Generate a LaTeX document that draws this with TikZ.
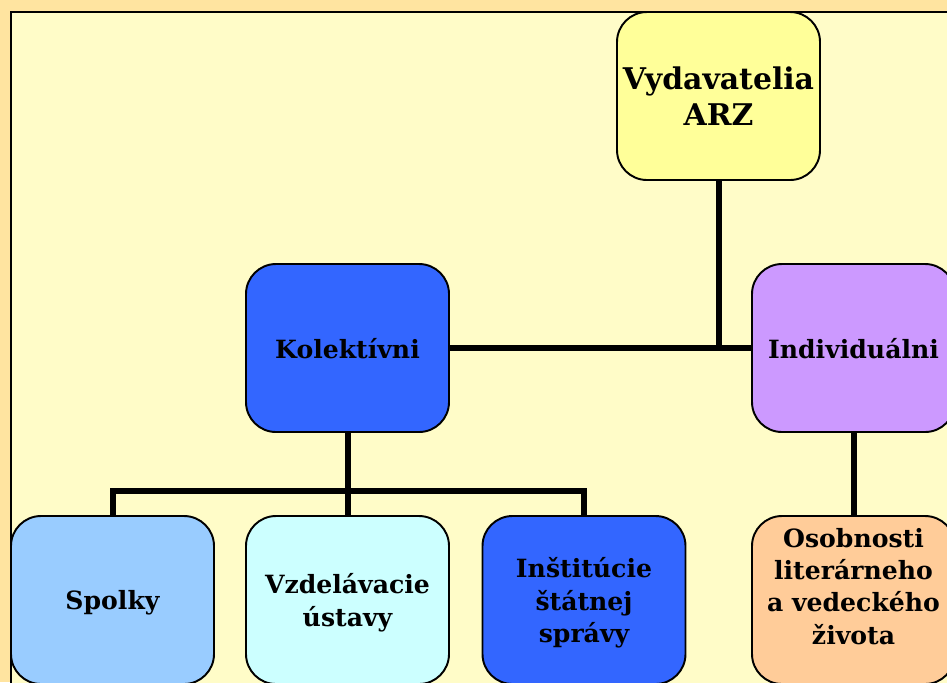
\documentclass[tikz,border=0pt]{standalone}
\usepackage{fontspec}
\setmainfont{DejaVu Serif}
\definecolor{pageorange}{HTML}{FFE4A0}
\definecolor{pageyellow}{HTML}{FFFCC8}
\definecolor{topyellow}{HTML}{FFFF99}
\definecolor{darkblue}{HTML}{3366FF}
\definecolor{lilac}{HTML}{CC99FF}
\definecolor{skyblue}{HTML}{99CCFF}
\definecolor{paleblue}{HTML}{CCFFFF}
\definecolor{peach}{HTML}{FFCC99}
\begin{document}
\begin{tikzpicture}[
        box/.style = {draw, line width = 1.1pt, rounded corners = 0.6cm,
            minimum width = 4.06cm, minimum height = 3.36cm, align = center,
            inner sep = 0pt, text depth = -0.05cm,
            font = \bfseries\fontsize{14.3}{18.3}\selectfont},
        link/.style = {line width = 0.12cm}
    ]
    \useasboundingbox (0, 0) rectangle (18.94, -13.64);
    % Page
    \fill [pageorange] (0, 0) rectangle (18.94, -13.64);
    \draw [fill = pageyellow, line width = 1.3pt]
        (0.22, -0.24) rectangle (19.5, -14.2);
    % Boxes
    \node [box, fill = topyellow, font = \bfseries\fontsize{17}{20.5}\selectfont]
        (vyd) at (14.37, -1.92) {Vydavatelia\\ARZ};
    \node [box, fill = darkblue] (kol) at (6.95, -6.96) {Kolektívni};
    \node [box, fill = lilac] (ind) at (17.07, -6.96) {Individuálni};
    \node [box, fill = skyblue] (spo) at (2.25, -12.0) {Spolky};
    \node [box, fill = paleblue] (vzd) at (6.95, -12.0) {Vzdelávacie\\ústavy};
    \node [box, fill = darkblue] (ins) at (11.68, -12.0) {Inštitúcie\\štátnej\\správy};
    \node [box, fill = peach, text depth = 0.55cm] (oso) at (17.07, -12.0)
        {Osobnosti\\literárneho\\a vedeckého\\života};
    % Connectors
    \coordinate (bus) at (0, -9.82);
    \draw [link] (vyd.south) -- (vyd.south |- kol.east);
    \draw [link] (kol.east) -- (ind.west);
    \draw [link] (ind.south) -- (oso.north);
    \draw [link] (kol.south) -- (kol.south |- bus);
    \draw [link] (spo.north) -- (spo.north |- bus) -- (ins.north |- bus) -- (ins.north);
    \draw [link] (vzd.north) -- (vzd.north |- bus);
\end{tikzpicture}
\end{document}
